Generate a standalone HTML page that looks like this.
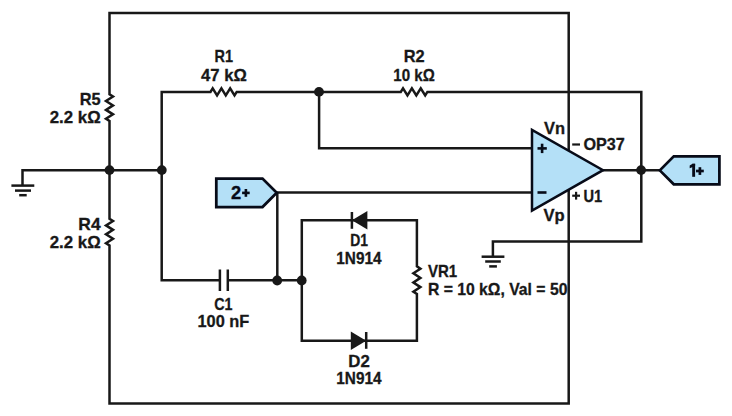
<!DOCTYPE html>
<html><head><meta charset="utf-8"><style>
html,body{margin:0;padding:0;background:#fff;width:732px;height:416px;overflow:hidden}
svg{display:block}
text{font-family:"Liberation Sans",sans-serif;font-weight:bold;font-size:16.6px;fill:#181818;stroke:#181818;stroke-width:0.3px}
</style></head><body>
<svg width="732" height="416" viewBox="0 0 732 416">
<rect width="732" height="416" fill="#fff"/>
<g fill="none" stroke="#181818" stroke-width="2.5" stroke-linejoin="miter" stroke-linecap="butt">
<polygon points="109.50,13.10 109.50,94.30 113.00,96.52 106.00,100.97 113.00,105.42 106.00,109.88 113.00,114.33 106.00,118.78 109.50,121.00 109.50,218.70 113.00,220.93 106.00,225.40 113.00,229.87 106.00,234.33 113.00,238.80 106.00,243.27 109.50,245.50 109.50,403.50 568.70,403.50 568.70,13.10" />
<polyline points="22.5,185.5 22.5,170.2 109.5,170.2" />
<polyline points="11.4,185.6 34.3,185.6" /><polyline points="15,190.6 31,190.6" /><polyline points="19.2,195.2 26.7,195.2" />
<polyline points="109.5,170.2 161.7,170.2" />
<polyline points="219.90,280.30 161.70,280.30 161.70,91.90 210.50,91.90 212.68,88.40 217.05,95.40 221.42,88.40 225.78,95.40 230.15,88.40 234.52,95.40 236.70,91.90 400.80,91.90 403.02,88.40 407.45,95.40 411.88,88.40 416.32,95.40 420.75,88.40 425.18,95.40 427.40,91.90 641.30,91.90 641.30,241.50 492.90,241.50 492.90,256.70" />
<polyline points="481.6,256.7 504.4,256.7" /><polyline points="485.2,261.5 500.8,261.5" /><polyline points="489.2,266.4 496.9,266.4" />
<polyline points="319.1,91.9 319.1,148.3 532,148.3" />
<polyline points="276.3,192.6 532,192.6" />
<polyline points="277.3,192.6 277.3,280.3" />
<polyline points="227.8,280.3 301.8,280.3" />
<polyline points="219.9,269.5 219.9,291" /><polyline points="227.8,269.5 227.8,291" />
<polygon points="301.80,220.30 416.90,220.30 416.90,266.40 420.40,268.70 413.40,273.30 420.40,277.90 413.40,282.50 420.40,287.10 413.40,291.70 416.90,294.00 416.90,340.70 301.80,340.70" />
<polyline points="351.9,212 351.9,228.8" />
<polyline points="366.2,332 366.2,348.8" />
<polyline points="603,170.2 660.4,170.2" />
</g>
<polygon points="351.9,220.3 367.4,211.1 367.4,229.5" fill="#181818"/>
<polygon points="350.8,331.5 350.8,349.9 366.2,340.7" fill="#181818"/>
<circle cx="109.5" cy="170.1" r="4.9" fill="#181818"/>
<circle cx="161.8" cy="170.1" r="4.9" fill="#181818"/>
<circle cx="319" cy="91.9" r="4.9" fill="#181818"/>
<circle cx="277.2" cy="280.5" r="4.9" fill="#181818"/>
<circle cx="301.7" cy="280.5" r="4.9" fill="#181818"/>
<circle cx="641.1" cy="170.1" r="4.9" fill="#181818"/>
<polygon points="532,129.9 532,210.5 603,170.2" fill="#b4e0f7" stroke="#070b18" stroke-width="2.5" stroke-linejoin="miter"/>
<polygon points="216.3,178.5 262.5,178.5 276.75,192.75 262.5,207 216.3,207" fill="#b4e0f7" stroke="#070b18" stroke-width="2.75"/>
<polygon points="659.8,170.35 673.75,156.4 719.4,156.4 719.4,184.3 673.75,184.3" fill="#b4e0f7" stroke="#070b18" stroke-width="2.75"/>
<polyline points="537.5,148.4 546.8,148.4" stroke="#070b18" stroke-width="2.6"/><polyline points="542.1,143.7 542.1,153.1" stroke="#070b18" stroke-width="2.6"/>
<polyline points="537.5,192.5 546.5,192.5" stroke="#070b18" stroke-width="2.6"/>
<polyline points="242.1,192.9 249.7,192.9" stroke="#070b18" stroke-width="2.6"/><polyline points="245.9,189 245.9,196.8" stroke="#070b18" stroke-width="2.6"/>
<polyline points="696,171 703.8,171" stroke="#070b18" stroke-width="2.7"/><polyline points="699.9,167.2 699.9,174.9" stroke="#070b18" stroke-width="2.7"/>
<rect x="692.2" y="163.8" width="2.9" height="13" fill="#070b18"/><polygon points="689.7,165.6 692.6,163.8 695.1,163.8 695.1,166 692.2,167.3 689.7,168.3" fill="#070b18"/>
<polyline points="572.2,144.5 580,144.5" stroke="#181818" stroke-width="2.2"/>
<polyline points="572.2,195.7 580,195.7" stroke="#181818" stroke-width="2.2"/><polyline points="576.1,191.8 576.1,199.6" stroke="#181818" stroke-width="2.2"/>
<text x="100.6" y="104.5" text-anchor="end" textLength="20.9" lengthAdjust="spacingAndGlyphs">R5</text>
<text x="100.7" y="122.6" text-anchor="end" textLength="51.0" lengthAdjust="spacingAndGlyphs">2.2 kΩ</text>
<text x="100.6" y="229.5" text-anchor="end" textLength="22.3" lengthAdjust="spacingAndGlyphs">R4</text>
<text x="100.7" y="247.7" text-anchor="end" textLength="51.0" lengthAdjust="spacingAndGlyphs">2.2 kΩ</text>
<text x="223.7" y="61.9" text-anchor="middle" textLength="18.5" lengthAdjust="spacingAndGlyphs">R1</text>
<text x="224" y="80.8" text-anchor="middle" textLength="45.8" lengthAdjust="spacingAndGlyphs">47 kΩ</text>
<text x="414.2" y="61.9" text-anchor="middle" textLength="21.0" lengthAdjust="spacingAndGlyphs">R2</text>
<text x="414" y="80.8" text-anchor="middle" textLength="41.5" lengthAdjust="spacingAndGlyphs">10 kΩ</text>
<text x="223.4" y="309.5" text-anchor="middle" textLength="18.3" lengthAdjust="spacingAndGlyphs">C1</text>
<text x="223.4" y="327.3" text-anchor="middle" textLength="51.8" lengthAdjust="spacingAndGlyphs">100 nF</text>
<text x="359.2" y="245.9" text-anchor="middle" textLength="17.8" lengthAdjust="spacingAndGlyphs">D1</text>
<text x="358.9" y="264.1" text-anchor="middle" textLength="45.3" lengthAdjust="spacingAndGlyphs">1N914</text>
<text x="359" y="366.5" text-anchor="middle" textLength="21.5" lengthAdjust="spacingAndGlyphs">D2</text>
<text x="358.9" y="384.4" text-anchor="middle" textLength="45.3" lengthAdjust="spacingAndGlyphs">1N914</text>
<text x="427.9" y="276.6" text-anchor="start" textLength="29.3" lengthAdjust="spacingAndGlyphs">VR1</text>
<text x="427.9" y="295.2" text-anchor="start" textLength="139.5" lengthAdjust="spacingAndGlyphs">R = 10 kΩ, Val = 50</text>
<text x="544.0" y="133.5" text-anchor="start" textLength="21.1" lengthAdjust="spacingAndGlyphs">Vn</text>
<text x="543.4000000000001" y="221.4" text-anchor="start" textLength="21.2" lengthAdjust="spacingAndGlyphs">Vp</text>
<text x="583.4000000000001" y="150" text-anchor="start" textLength="41.5" lengthAdjust="spacingAndGlyphs">OP37</text>
<text x="583.4000000000001" y="201.5" text-anchor="start" textLength="18.7" lengthAdjust="spacingAndGlyphs">U1</text>
<text x="231.0" y="198.9" text-anchor="start" textLength="10.2" lengthAdjust="spacingAndGlyphs" style="font-size:17.5px;fill:#070b18;stroke:#070b18">2</text>
</svg>
</body></html>
